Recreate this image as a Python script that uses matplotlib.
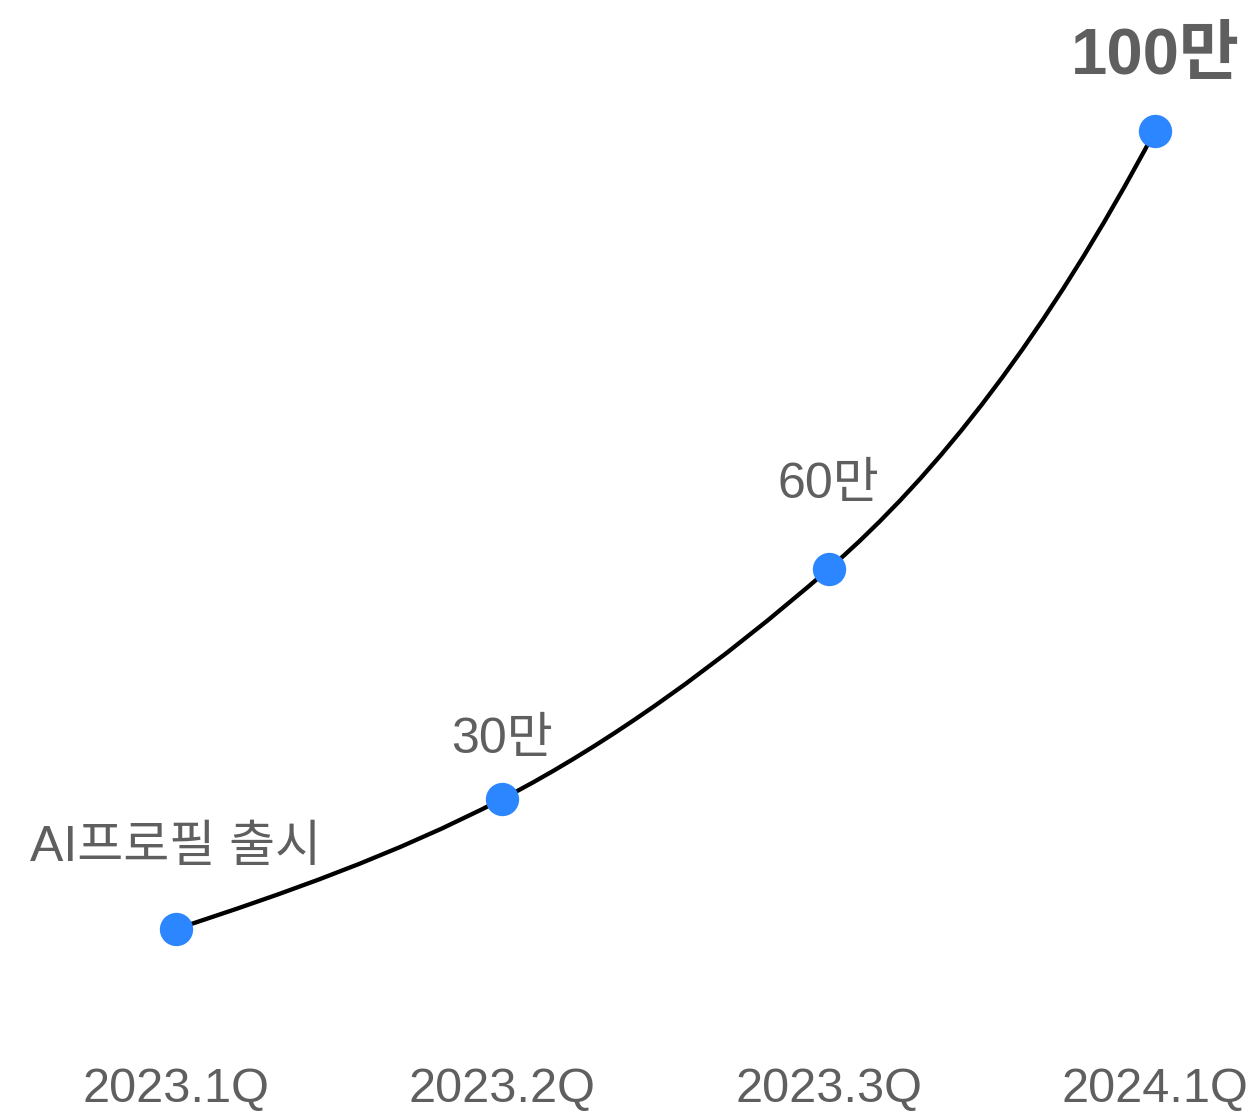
import numpy as np
import matplotlib.pyplot as plt
from matplotlib.path import Path
from matplotlib.patches import PathPatch

plt.rcParams['font.family'] = ['Liberation Sans', 'Noto Sans CJK KR', 'DejaVu Sans']

# ----> Data <----
quarters = ['2023.1Q', '2023.2Q', '2023.3Q', '2024.1Q']
heights = [0, 16.3, 45.1, 100]          # relative height of each point on the curve
slopes = [13.4, 21.2, 35.5, 77]         # slope of the curve at each point
point_labels = ['AI프로필 출시', '30만', '60만', '100만']
label_offsets = [81, 59, 84, 75]        # pixels above each point
label_bold = [False, False, False, True]

text_color = '#5f5f5f'
dot_color = '#2b86ff'


# ----> hermite curve through the points, as a bezier path <----
def hermite_path(xs, ys, ts):
    verts = [(xs[0], ys[0])]
    codes = [Path.MOVETO]
    for i in range(len(xs) - 1):
        dx = (xs[i + 1] - xs[i]) / 3
        verts += [(xs[i] + dx, ys[i] + dx * ts[i]),
                  (xs[i + 1] - dx, ys[i + 1] - dx * ts[i + 1]),
                  (xs[i + 1], ys[i + 1])]
        codes += [Path.CURVE4] * 3
    return Path(verts, codes)


fig = plt.figure(figsize=(12.51, 11.11), dpi=100)
ax = fig.add_axes([0, 0.0549, 1, 0.9451])

x = np.arange(len(quarters))
ax.add_patch(PathPatch(hermite_path(x, heights, slopes), facecolor='none',
                       edgecolor='black', lw=3.1, zorder=2))
ax.plot(x, heights, 'o', color=dot_color, markersize=24, markeredgewidth=0, zorder=3)

for xi, yi, lab, off, bold in zip(x, heights, point_labels, label_offsets, label_bold):
    ax.annotate(lab, (xi, yi), xytext=(0, off), textcoords='offset pixels',
                ha='center', va='center', color=text_color,
                fontsize=47 if bold else 36,
                fontweight='bold' if bold else 'normal')

ax.set_xlim(-0.539, 3.294)
ax.set_ylim(-15.16, 116.4)
ax.set_xticks(x)
ax.set_xticklabels(quarters, fontsize=35, color=text_color)
ax.tick_params(axis='x', length=0, pad=12)
ax.set_yticks([])
for sp in ax.spines.values():
    sp.set_visible(False)

fig.savefig('out.png', dpi=100)
